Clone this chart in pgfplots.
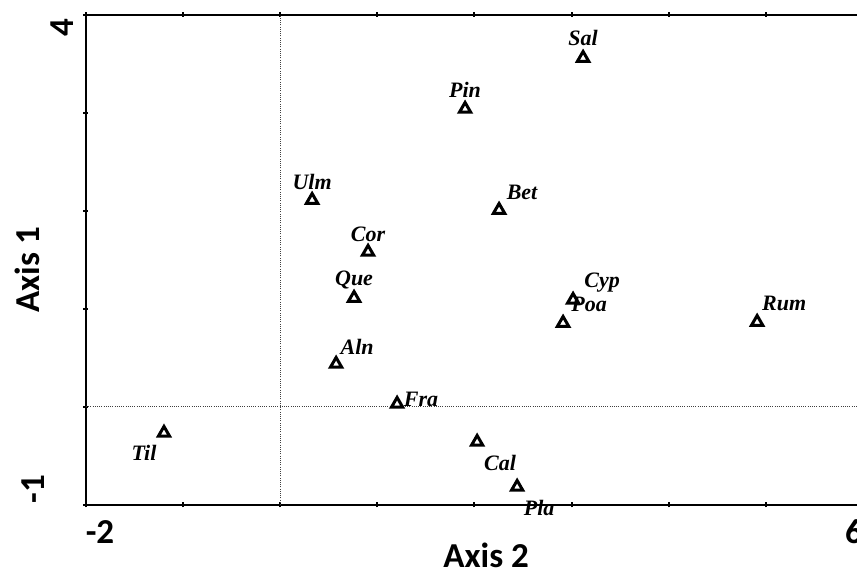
\documentclass[border=0pt]{standalone}
\usepackage{pgfplots}
\pgfplotsset{compat=1.18}
\usepackage{pgfplotstable}
\usepackage{fontspec}
\setmainfont{Liberation Serif}
\newfontfamily\calib{Carlito}
\newcommand\tickfont{\calib\bfseries\fontsize{35}{40}\selectfont}
\newcommand\taxfont{\fontsize{22}{24}\selectfont\bfseries\itshape}

% ordination scores of the taxa, with label offsets (pt)
\pgfplotstableread{
x      y      lab  dx   dy
-1.197 -0.265 Til  -20  -20
0.575  0.439  Aln   21   17
1.203  0.031  Fra   24    5
0.760  1.112  Que    0   18
0.904  1.582  Cor    0   18
0.328  2.112  Ulm    0   18
2.253  2.010  Bet   23   18
3.015  1.092  Cyp   29   17
2.912  0.857  Poa   26   19
4.910  0.867  Rum   27   19
3.118  3.561  Sal    0   20
1.903  3.041  Pin    0   19
2.027 -0.357  Cal   23  -21
2.439 -0.816  Pla   22  -21
}\taxa

\begin{document}
\begin{tikzpicture}
\begin{axis}[
  name=ax,
  at={(0,0)}, anchor=south west,
  width=777pt, height=490pt, scale only axis,
  xmin=-2, xmax=6, ymin=-1, ymax=4,
  axis line style={line width=2.6pt},
  xtick={-2,...,6}, ytick={-1,...,4},
  xticklabels={}, yticklabels={},
  tick align=center, major tick length=5pt,
  tick style={line width=2pt, black},
  clip=false,
  every mark/.append style={line width=3pt},
]
\draw[black!75, line width=1pt, dash pattern=on 1pt off 1.2pt]
  (axis cs:0,-1) -- (axis cs:0,4);
\draw[black!75, line width=1pt, dash pattern=on 1pt off 1.2pt]
  (axis cs:-2,0) -- (axis cs:6,0);

\addplot[only marks, mark=triangle, mark size=6.5pt, line width=3pt,
  mark options={line width=3pt, black, solid, line join=miter},
  point meta=explicit symbolic,
  visualization depends on={\thisrow{dx}\as\dx},
  visualization depends on={\thisrow{dy}\as\dy},
  nodes near coords,
  nodes near coords style={anchor=center, xshift=\dx pt, yshift=\dy pt,
    font=\taxfont, text=black, inner sep=0pt},
] table[meta=lab] {\taxa};

% tick labels at the ends of each axis
\node[font=\tickfont, anchor=center] at ([xshift=14pt, yshift=-27pt]axis cs:-2,-1) {-2};
\node[font=\tickfont, anchor=center] at ([xshift=-9pt, yshift=-27pt]axis cs:6,-1) {6};
\node[font=\tickfont, anchor=center, rotate=90] at ([xshift=-24pt, yshift=-13pt]axis cs:-2,4) {4};
\node[font=\tickfont, anchor=center, rotate=90] at ([xshift=-53pt, yshift=16pt]axis cs:-2,-1) {-1};

% axis titles
\node[font=\tickfont, anchor=center] at ([yshift=-50pt]axis cs:2.12,-1) {Axis 2};
\node[font=\tickfont, anchor=center, rotate=90] at ([xshift=-59pt]axis cs:-2,1.398) {Axis 1};
\end{axis}
\pgfresetboundingbox
\path[use as bounding box]
  ([xshift=-86pt, yshift=-67pt]ax.south west) rectangle
  ([xshift=771pt, yshift=505pt]ax.south west);
\end{tikzpicture}
\end{document}
